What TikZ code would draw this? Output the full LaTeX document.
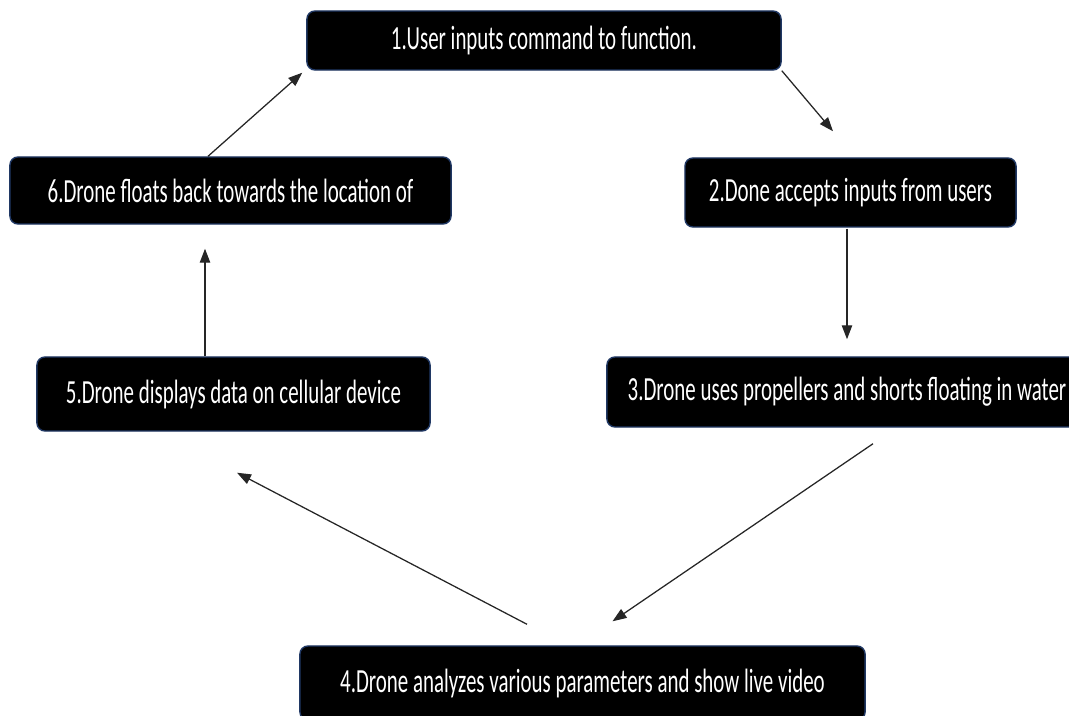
\documentclass[tikz,border=0pt]{standalone}
\usepackage{fontspec}
\setmainfont[FakeStretch=0.62]{Carlito}
\usetikzlibrary{arrows.meta}
\definecolor{boxedge}{RGB}{32,56,100}

\begin{document}
\begin{tikzpicture}[x=0.025cm, y=-0.025cm, >={Triangle[length=3.5mm, width=2.6mm]},
    stepbox/.style={draw=boxedge, line width=1pt, fill=black, text=white, rounded corners=2mm, inner sep=0pt, font=\fontsize{24}{28}\selectfont},
    flow/.style={->, line width=0.9pt, draw=black!85}]
    \useasboundingbox (0,0) rectangle (1069,715);

    % Nodes
    \node[stepbox, minimum width=11.85cm, minimum height=1.475cm] at (544, 40.5) (n1) {1.User inputs command to function.};
    \node[stepbox, minimum width=8.275cm, minimum height=1.725cm] at (850.5, 192.5) (n2) {2.Done accepts inputs from users};
    \node[stepbox, minimum width=12cm, minimum height=1.75cm] at (847, 392) (n3) {3.Drone uses propellers and shorts floating in water};
    \node[stepbox, minimum width=14.125cm, minimum height=1.85cm] at (582.5, 683) (n4) {4.Drone analyzes various parameters and show live video};
    \node[stepbox, minimum width=9.825cm, minimum height=1.85cm] at (233.5, 394) (n5) {5.Drone displays data on cellular device};
    \node[stepbox, minimum width=11.025cm, minimum height=1.675cm] at (230.5, 190.5) (n6) {6.Drone floats back towards the location of};

    % Edges
    \draw[flow] (n1.south east) -- ([shift={(-17.5,-26)}]n2.north);
    \draw[flow] ([shift={(-3.5,1)}]n2.south) -- ([shift={(0,-17)}]n3.north);
    \draw[flow] ([shift={(26,16)}]n3.south) -- ([shift={(30,-24)}]n4.north);
    \draw[flow] ([shift={(-55.5,-21)}]n4.north) -- ([shift={(3.5,41)}]n5.south);
    \draw[flow] ([shift={(-28.5,0)}]n5.north) -- ([shift={(-25.5,24)}]n6.south);
    \draw[flow] ([shift={(-22.5,0)}]n6.north) -- ([shift={(-4,2)}]n1.south west);
\end{tikzpicture}
\end{document}
